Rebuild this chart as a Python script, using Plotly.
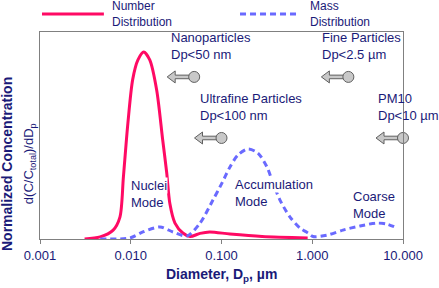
import numpy as np
import plotly.graph_objects as go

# ---- data ----
number_dp = [0.0031, 0.0046, 0.0064, 0.0076, 0.0083, 0.0093, 0.0105, 0.012, 0.0139, 0.0162,
             0.0193, 0.0225, 0.0249, 0.027, 0.0307, 0.0375, 0.045, 0.058, 0.074, 0.124, 0.28, 0.89]
number_conc = [0.0, 0.01, 0.043, 0.106, 0.30, 0.56, 0.77, 0.865, 0.903, 0.865,
               0.72, 0.478, 0.32, 0.17, 0.077, 0.029, 0.012, 0.027, 0.034, 0.024, 0.012, 0.005]

mass_dp = [0.0046, 0.0098, 0.0136, 0.021, 0.0292, 0.0417, 0.058, 0.0805, 0.1014, 0.124, 0.152,
           0.196, 0.252, 0.317, 0.369, 0.441, 0.569, 0.733, 0.898, 1.02, 1.46, 2.18, 3.36,
           5.17, 6.66, 8.6]
mass_conc = [0.0, 0.005, 0.034, 0.058, 0.034, 0.0145, 0.077, 0.188, 0.271, 0.348, 0.406,
             0.435, 0.415, 0.348, 0.271, 0.188, 0.106, 0.053, 0.029, 0.012, 0.019, 0.043, 0.063,
             0.077, 0.072, 0.053]

tick_vals = [0.001, 0.01, 0.1, 1.0, 10.0]
tick_text = ["0.001", "0.010", "0.100", "1.000", "10.000"]

size_class_labels = ["Nanoparticles<br>Dp<50 nm", "Ultrafine Particles<br>Dp<100 nm",
                     "Fine Particles<br>Dp<2.5 \u00b5m", "PM10<br>Dp<10 \u00b5m"]
size_class_cutoff = [0.05, 0.1, 2.5, 10.0]
size_class_level = [0.783, 0.488, 0.783, 0.488]

mode_labels = [["Nuclei", "Mode"], ["Accumulation", "Mode"], ["Coarse", "Mode"]]
mode_label_dp = [0.0098, 0.137, 2.74]
mode_label_level = [0.217, 0.22, 0.164]

NAVY = "#1a1a78"
RED = "#ff0a64"
BLUE = "#6a6aff"
GREY_FILL = "#c8c8c8"
GREY_LINE = "#606060"
FONT = "Liberation Sans, Arial, sans-serif"

PLOT_W, PLOT_H = 363, 207
DEC_PER_PX = 4.0 / PLOT_W
Y_PER_PX = 1.0 / PLOT_H

fig = go.Figure()
fig.add_trace(go.Scatter(x=number_dp, y=number_conc, mode="lines",
                         line=dict(color=RED, width=3, shape="spline", smoothing=0.8),
                         showlegend=False, hoverinfo="skip"))
fig.add_trace(go.Scatter(x=mass_dp, y=mass_conc, mode="lines",
                         line=dict(color=BLUE, width=3, shape="spline", smoothing=0.8, dash="6px,4px"),
                         showlegend=False, hoverinfo="skip"))

annotations = []
shapes = []

# pointer arrow outline (pixel offsets from the cut-off point)
arrow_px = [(-4, 1.8), (-19, 1.8), (-19, 6), (-27, 0), (-19, -6), (-19, -1.8), (-4, -1.8), (-4, 1.8)]
label_xshift = [-25, -24, -28, -27]

for lab, cut, lev, xs in zip(size_class_labels, size_class_cutoff, size_class_level, label_xshift):
    ax = [cut * 10 ** (dx * DEC_PER_PX) for dx, dy in arrow_px]
    ay = [lev + dy * Y_PER_PX for dx, dy in arrow_px]
    fig.add_trace(go.Scatter(x=ax, y=ay, mode="lines", fill="toself", fillcolor=GREY_FILL,
                             line=dict(color=GREY_LINE, width=1), showlegend=False,
                             hoverinfo="skip", cliponaxis=False))
    fig.add_trace(go.Scatter(x=[cut], y=[lev], mode="markers",
                             marker=dict(symbol="circle", size=11, color=GREY_FILL,
                                         line=dict(color=GREY_LINE, width=1)),
                             showlegend=False, hoverinfo="skip", cliponaxis=False))
    annotations.append(dict(x=np.log10(cut), y=lev, xref="x", yref="y", text=lab, showarrow=False,
                            xanchor="left", yanchor="middle", xshift=xs, yshift=31,
                            align="left", font=dict(family=FONT, size=13, color=NAVY)))

# mode labels (each line separately, white background)
for lines, dp, lev in zip(mode_labels, mode_label_dp, mode_label_level):
    for i, txt in enumerate(lines):
        annotations.append(dict(x=np.log10(dp), y=lev, xref="x", yref="y", text=txt, showarrow=False,
                                xanchor="left", yanchor="middle", align="left",
                                yshift=8.5 - 17 * i, bgcolor="white", borderpad=0,
                                font=dict(family=FONT, size=13, color=NAVY)))

# legend (manual)
shapes.append(dict(type="line", xref="paper", yref="paper", x0=0.0055, x1=0.176, y0=1.087, y1=1.087,
                   line=dict(color=RED, width=3)))
shapes.append(dict(type="line", xref="paper", yref="paper", x0=0.551, x1=0.716, y0=1.087, y1=1.087,
                   line=dict(color=BLUE, width=3, dash="6px,4px")))
annotations.append(dict(x=0.193, y=1.087, xref="paper", yref="paper", text="Number<br>Distribution",
                        showarrow=False, xanchor="left", yanchor="middle", align="left",
                        font=dict(family=FONT, size=12, color=NAVY)))
annotations.append(dict(x=0.738, y=1.087, xref="paper", yref="paper", text="Mass<br>Distribution",
                        showarrow=False, xanchor="left", yanchor="middle", align="left",
                        font=dict(family=FONT, size=12, color=NAVY)))

# axis titles
annotations.append(dict(x=-0.091, y=0.362, xref="paper", yref="paper", textangle=-90,
                        text="<b>Normalized Concentration</b>", showarrow=False,
                        xanchor="center", yanchor="middle",
                        font=dict(family=FONT, size=14, color=NAVY)))
annotations.append(dict(x=-0.03, y=0.362, xref="paper", yref="paper", textangle=-90,
                        text="d(C/C<sub>total</sub>)/dD<sub>p</sub>", showarrow=False,
                        xanchor="center", yanchor="middle",
                        font=dict(family=FONT, size=13, color=NAVY)))
annotations.append(dict(x=0.501, y=-0.174, xref="paper", yref="paper",
                        text="<b>Diameter, D<sub>p</sub>, \u00b5m</b>", showarrow=False,
                        xanchor="center", yanchor="middle",
                        font=dict(family=FONT, size=14, color=NAVY)))

fig.update_layout(
    width=439, height=288,
    margin=dict(l=40, r=36, t=32, b=49),
    paper_bgcolor="white", plot_bgcolor="white",
    showlegend=False,
    annotations=annotations, shapes=shapes,
    xaxis=dict(type="log", range=[-3, 1], tickvals=tick_vals, ticktext=tick_text,
               showgrid=False, zeroline=False, showline=True, mirror=True,
               linecolor="#808080", linewidth=1, ticks="outside", ticklen=4,
               tickcolor="#808080", tickfont=dict(family=FONT, size=13, color=NAVY)),
    yaxis=dict(range=[0, 1], showticklabels=False, showgrid=False, zeroline=False,
               showline=True, mirror=True, linecolor="#808080", linewidth=1, ticks=""),
)

fig.write_html("out.html")
